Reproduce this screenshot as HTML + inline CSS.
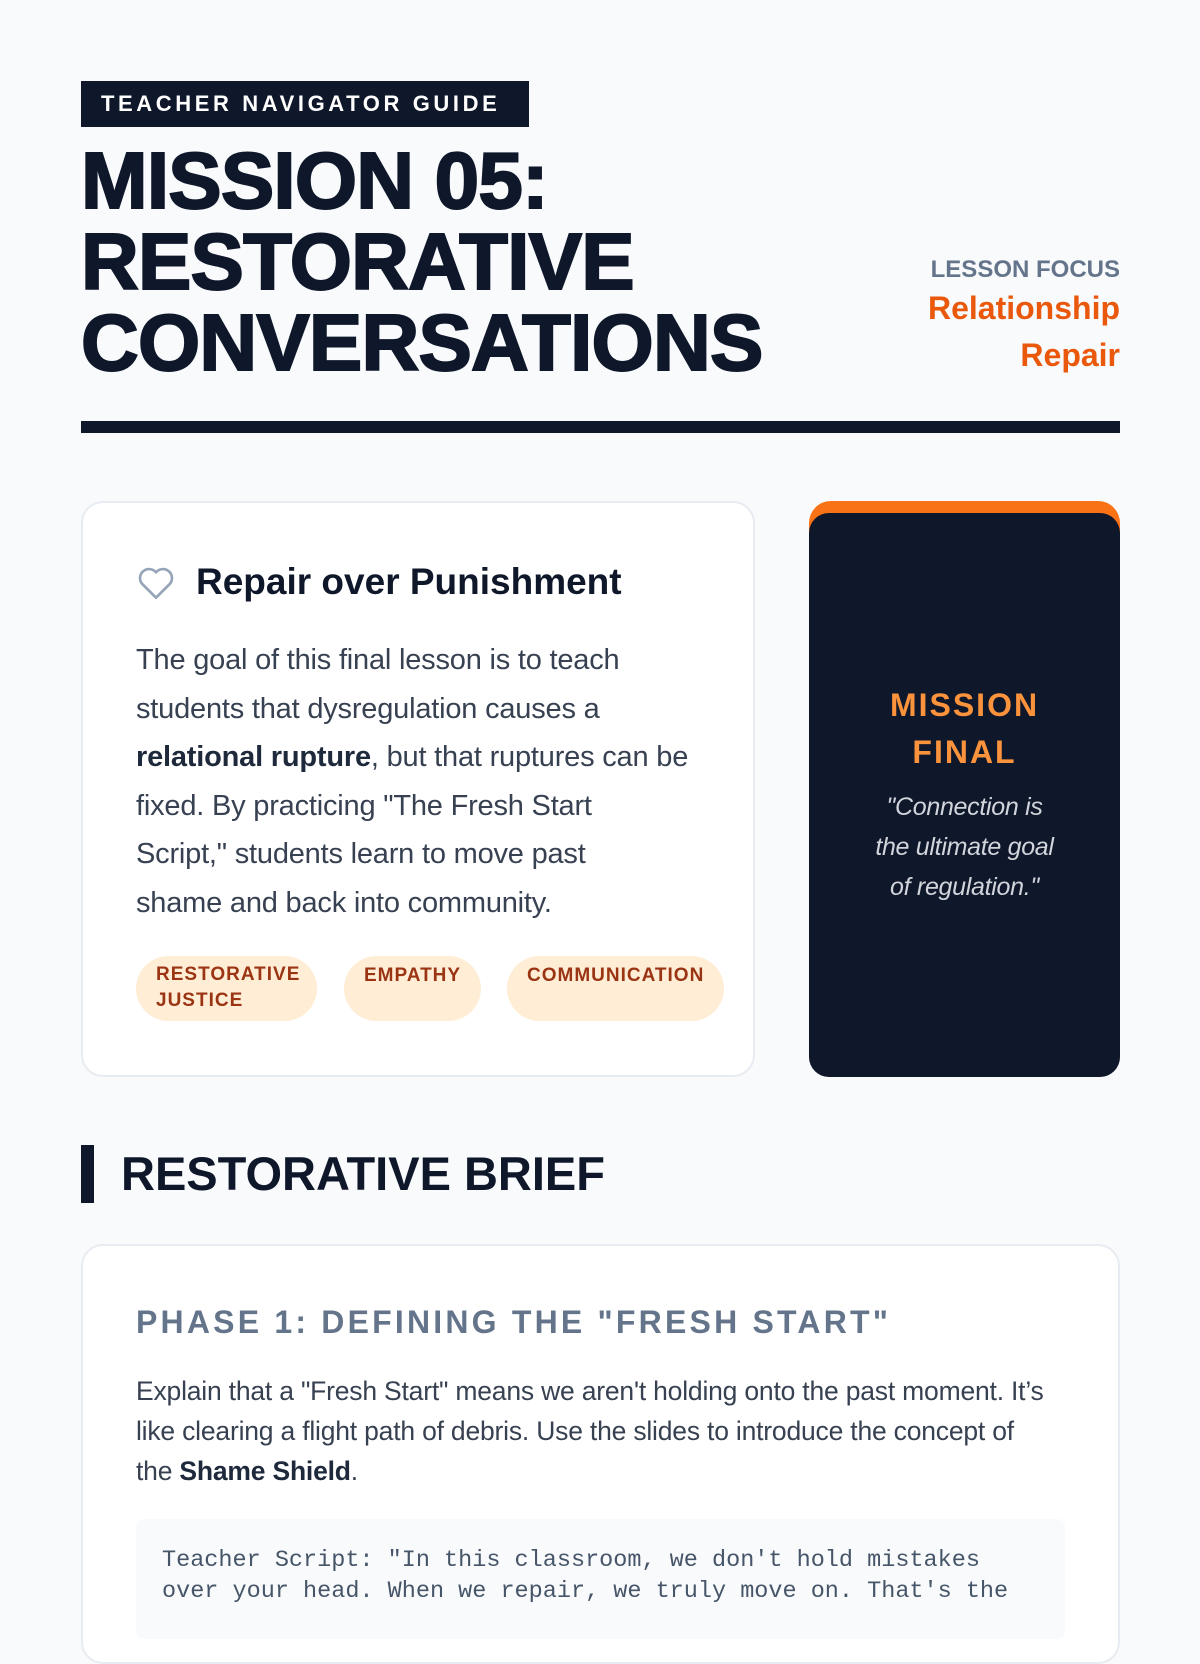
<!DOCTYPE html>
<html><head><meta charset="utf-8"><style>
*{margin:0;padding:0;box-sizing:border-box}
body{width:1200px;height:1600px;overflow:hidden;background:#f8fafc;font-family:"Liberation Sans",sans-serif;color:#0f172a;position:relative}
.abs{position:absolute}
.badge{left:81px;top:81px;width:448px;height:46px;background:#0f172a;color:#fff;font-weight:700;font-size:22px;letter-spacing:3.6px;line-height:46px;padding-left:20px;white-space:nowrap}
.title{left:81px;top:140px;font-weight:900;font-size:80px;line-height:81px;letter-spacing:-0.8px;color:#0f172a;-webkit-text-stroke:2px #0f172a;white-space:nowrap}
.focus{right:80px;top:255px;text-align:right}
.focus .l{font-size:24px;color:#64748b;font-weight:700;line-height:30px}
.focus .v{font-size:32px;color:#ea580c;font-weight:700;line-height:47px}
.rule{left:81px;top:421px;width:1039px;height:12px;background:#0f172a}
.card{background:#fff;border:2px solid #e7ecf2;border-radius:22px}
.p{font-size:29px;line-height:48.6px;color:#374151;letter-spacing:-0.2px;white-space:nowrap}
.tag{background:#ffedd5;color:#9a3412;font-weight:700;font-size:19px;letter-spacing:1px;border-radius:33px;line-height:26px;padding:6px 20px}
</style></head><body>
<div class="abs badge">TEACHER NAVIGATOR GUIDE</div>
<div class="abs title">MISSION 05:<br>RESTORATIVE<br>CONVERSATIONS</div>
<div class="abs focus"><div class="l">LESSON FOCUS</div><div class="v">Relationship<br>Repair</div></div>
<div class="abs rule"></div>

<div class="abs card" style="left:81px;top:501px;width:674px;height:576px"></div>
<svg class="abs" style="left:136px;top:565px" width="40" height="36" viewBox="0 0 24 22"><path d="M12 20 L3.5 11.5 A5 5 0 0 1 12 4.5 A5 5 0 0 1 20.5 11.5 Z" fill="none" stroke="#94a3b8" stroke-width="1.6" stroke-linejoin="round"/></svg>
<div class="abs" style="left:196px;top:558px;font-size:37px;font-weight:700;line-height:48px">Repair over Punishment</div>
<div class="abs p" style="left:136px;top:636px">The goal of this final lesson is to teach<br>students that dysregulation causes a<br><b style="color:#1e293b">relational rupture</b>, but that ruptures can be<br>fixed. By practicing "The Fresh Start<br>Script," students learn to move past<br>shame and back into community.</div>
<div class="abs tag" style="left:136px;top:956px;width:181px;height:65px">RESTORATIVE JUSTICE</div>
<div class="abs tag" style="left:344px;top:956px;height:65px;padding-top:7px">EMPATHY</div>
<div class="abs tag" style="left:507px;top:956px;height:65px;padding-top:7px">COMMUNICATION</div>

<div class="abs" style="left:809px;top:501px;width:311px;height:576px;background:#f97316;border-radius:22px"></div>
<div class="abs" style="left:809px;top:513px;width:311px;height:564px;background:#0f172a;border-radius:20px"></div>
<div class="abs" style="left:809px;top:682px;width:311px;text-align:center;color:#fb923c;font-weight:700;font-size:32px;letter-spacing:2px;line-height:47px">MISSION<br>FINAL</div>
<div class="abs" style="left:809px;top:787px;width:311px;text-align:center;color:#d1d5db;font-style:italic;font-size:25px;line-height:40px;letter-spacing:-0.3px">"Connection is<br>the ultimate goal<br>of regulation."</div>

<div class="abs" style="left:81px;top:1145px;width:13px;height:58px;background:#0f172a"></div>
<div class="abs" style="left:121px;top:1145px;font-size:47px;font-weight:700;line-height:58px">RESTORATIVE BRIEF</div>

<div class="abs card" style="left:81px;top:1244px;width:1039px;height:420px"></div>
<div class="abs" style="left:136px;top:1302px;font-size:32px;font-weight:700;letter-spacing:3.2px;color:#64748b;line-height:40px">PHASE 1: DEFINING THE "FRESH START"</div>
<div class="abs" style="left:136px;top:1371px;font-size:26.5px;line-height:40px;color:#374151;letter-spacing:-0.2px;white-space:nowrap">Explain that a "Fresh Start" means we aren't holding onto the past moment. It’s<br>like clearing a flight path of debris. Use the slides to introduce the concept of<br>the <b style="color:#1e293b">Shame Shield</b>.</div>
<div class="abs" style="left:136px;top:1519px;width:929px;height:120px;background:#f8fafc;border-radius:8px"></div>
<div class="abs" style="left:162px;top:1545px;width:880px;font-family:'Liberation Mono',monospace;font-size:23.5px;line-height:31px;color:#475569">Teacher Script: "In this classroom, we don't hold mistakes over your head. When we repair, we truly move on. That's the</div>
</body></html>
